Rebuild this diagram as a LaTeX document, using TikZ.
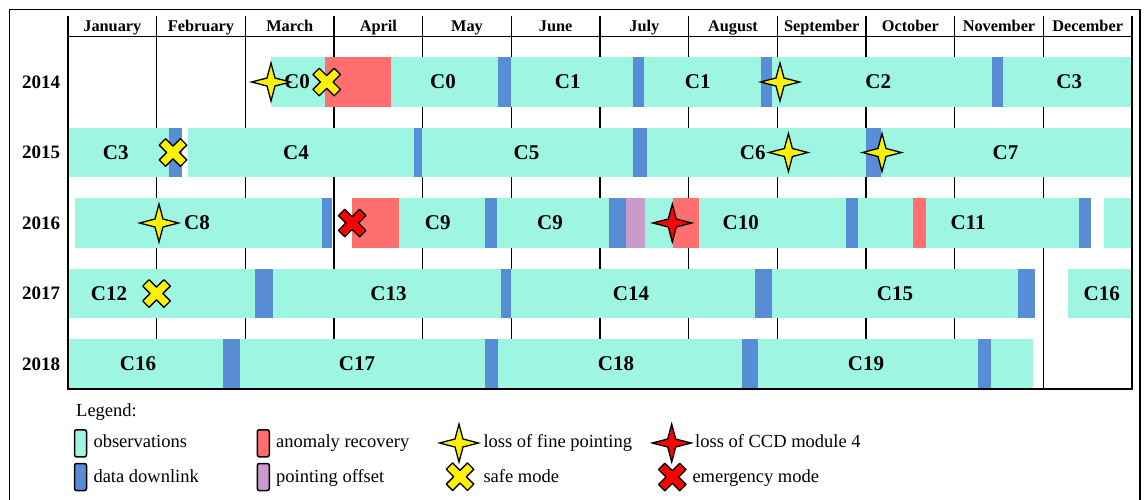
\documentclass[tikz,border=0pt]{standalone}
\usepackage{fontspec}
\newfontfamily\tnr{Liberation Serif}
\definecolor{obsc}{RGB}{158,245,226}
\definecolor{dlc}{RGB}{88,141,214}
\definecolor{anc}{RGB}{255,111,111}
\definecolor{poc}{RGB}{200,155,203}
\begin{document}
\begin{tikzpicture}[x=1pt,y=-1pt,
  seglabel/.style={font=\tnr\fontsize{21}{21}\selectfont\bfseries, inner sep=0pt},
  yearlabel/.style={font=\tnr\fontsize{19}{19}\selectfont\bfseries, inner sep=0pt},
  monthlabel/.style={font=\tnr\fontsize{16.3}{16.3}\selectfont\bfseries, inner sep=0pt, anchor=base},
  legtext/.style={font=\tnr\fontsize{18.5}{18.5}\selectfont, inner sep=0pt, anchor=base west},
  swatch/.style={draw=black, line width=1.5pt, rounded corners=2pt, minimum width=12pt, minimum height=27pt, inner sep=0pt},
  gridline/.style={line width=1.5pt},
  frameline/.style={line width=2pt},
  fourstar/.pic={\path[pic actions] (19.5,0) -- (4,4) -- (0,19) -- (-4,4) -- (-19.5,0) -- (-4,-4) -- (0,-19) -- (4,-4) -- cycle;},
  crossmark/.pic={\path[pic actions,rotate=45] (-4.5,-15) -- (4.5,-15) -- (4.5,-4.5) -- (15,-4.5) -- (15,4.5) -- (4.5,4.5) -- (4.5,15) -- (-4.5,15) -- (-4.5,4.5) -- (-15,4.5) -- (-15,-4.5) -- (-4.5,-4.5) -- cycle;},
  ystar/.style={fill=yellow, draw=black, line width=1.3pt},
  rstar/.style={fill=red, draw=black, line width=1.3pt},
  ycross/.style={fill=yellow, draw=black, line width=1.3pt, line join=round},
  rcross/.style={fill=red, draw=black, line width=1.3pt, line join=round},
]
\useasboundingbox (0,0) rectangle (1147,499);
% outer frame
\draw[line width=1.5pt] (9.5,9.5) rectangle (1140,503);
% interior month lines (behind bars)
\foreach \i in {1,...,11} \draw[gridline] ({68+88.667*\i},15.7) -- ({68+88.667*\i},388.5);
% month labels
\foreach \m [count=\i] in {January,February,March,April,May,June,July,August,September,October,November,December}
  \node[monthlabel] (m\i) at ({68+88.667*(\i-0.5)},31) {\m};
% row 2014
\foreach \s/\e/\c in {271/325/obsc,325/391/anc,391/498.3/obsc,498.3/510.7/dlc,510.7/633.3/obsc,633.3/644/dlc,644/761/obsc,761/771.7/dlc,771.7/991.7/obsc,991.7/1003.3/dlc,1003.3/1132/obsc}
  \fill[\c] (\s,57.3) rectangle (\e,106.7);
% row 2015
\foreach \s/\e/\c in {68/169.4/obsc,169.4/182/dlc,187.6/414.4/obsc,414.4/422/dlc,422/633.4/obsc,633.4/646.5/dlc,646.5/866.3/obsc,866.3/880.9/dlc,880.9/1132/obsc}
  \fill[\c] (\s,127.8) rectangle (\e,177.2);
% row 2016
\foreach \s/\e/\c in {75.1/322.2/obsc,322.2/331.9/dlc,351.8/398.8/anc,398.8/484.6/obsc,484.6/496.9/dlc,496.9/608.7/obsc,608.7/625.9/dlc,625.9/645.4/poc,645.4/673/obsc,673/698.9/anc,698.9/846/obsc,846/858/dlc,858/913/obsc,913/925.8/anc,925.8/1078.5/obsc,1078.5/1090.5/dlc,1104/1132/obsc}
  \fill[\c] (\s,198.3) rectangle (\e,247.7);
% row 2017
\foreach \s/\e/\c in {68/255.3/obsc,255.3/272.7/dlc,272.7/500.6/obsc,500.6/511/dlc,511/755/obsc,755/771.5/dlc,771.5/1017.9/obsc,1017.9/1034.7/dlc,1068.4/1132/obsc}
  \fill[\c] (\s,268.8) rectangle (\e,318.2);
% row 2018
\foreach \s/\e/\c in {68/222.7/obsc,222.7/240/dlc,240/485/obsc,485/497.6/dlc,497.6/742/obsc,742/758.4/dlc,758.4/978.2/obsc,978.2/991/dlc,991/1032.5/obsc}
  \fill[\c] (\s,339.3) rectangle (\e,388.7);
% outer grid lines
\draw[gridline] (68,36.7) -- (1132,36.7);
\draw[frameline] (68,15.7) -- (68,388.5) -- (1132,388.5) -- (1132,15.7);
% year labels
\node[yearlabel] (y2014) at (41,82) {2014};
\node[yearlabel] (y2015) at (41,152.5) {2015};
\node[yearlabel] (y2016) at (41,223) {2016};
\node[yearlabel] (y2017) at (41,293.5) {2017};
\node[yearlabel] (y2018) at (41,364) {2018};
% campaign labels
\node[seglabel] (c0a) at (297,82) {C0};
\node[seglabel] (c0b) at (443,82) {C0};
\node[seglabel] (c1a) at (567.7,82) {C1};
\node[seglabel] (c1b) at (697.7,82) {C1};
\node[seglabel] (c2) at (878.3,82) {C2};
\node[seglabel] (c3a) at (1069.3,82) {C3};
\node[seglabel] (c3b) at (115.8,152.5) {C3};
\node[seglabel] (c4) at (296,152.5) {C4};
\node[seglabel] (c5) at (526.5,152.5) {C5};
\node[seglabel] (c6) at (752.8,152.5) {C6};
\node[seglabel] (c7) at (1005.5,152.5) {C7};
\node[seglabel] (c8) at (197,223) {C8};
\node[seglabel] (c9a) at (437.7,223) {C9};
\node[seglabel] (c9b) at (550,223) {C9};
\node[seglabel] (c10) at (740.8,223) {C10};
\node[seglabel] (c11) at (968,223) {C11};
\node[seglabel] (c12) at (109,293.5) {C12};
\node[seglabel] (c13) at (388.5,293.5) {C13};
\node[seglabel] (c14) at (631,293.5) {C14};
\node[seglabel] (c15) at (895,293.5) {C15};
\node[seglabel] (c16a) at (1101.7,293.5) {C16};
\node[seglabel] (c16b) at (138,364) {C16};
\node[seglabel] (c17) at (357,364) {C17};
\node[seglabel] (c18) at (616,364) {C18};
\node[seglabel] (c19) at (866,364) {C19};
% events
\pic[ystar] (ev1) at (271,82) {fourstar};
\pic[ycross] (ev2) at (326.7,82) {crossmark};
\pic[ystar] (ev3) at (780,82) {fourstar};
\pic[ycross] (ev4) at (173,152.5) {crossmark};
\pic[ystar] (ev5) at (788.4,152.5) {fourstar};
\pic[ystar] (ev6) at (882,152.5) {fourstar};
\pic[ystar] (ev7) at (159,223) {fourstar};
\pic[rcross] (ev8) at (352.2,223) {crossmark};
\pic[rstar] (ev9) at (672.3,223) {fourstar};
\pic[ycross] (ev10) at (156.5,293.5) {crossmark};
% legend
\node[legtext] (legend) at (76,416.5) {Legend:};
\node[swatch, fill=obsc] (sw1) at (80.5,443.3) {};
\node[legtext] (lt1) at (93.3,447.5) {observations};
\node[swatch, fill=dlc] (sw2) at (80.5,477) {};
\node[legtext] (lt2) at (93.3,482) {data downlink};
\node[swatch, fill=anc] (sw3) at (263.3,443.3) {};
\node[legtext] (lt3) at (276,447.5) {anomaly recovery};
\node[swatch, fill=poc] (sw4) at (263.3,477) {};
\node[legtext] (lt4) at (276,482) {pointing offset};
\pic[ystar] (ls1) at (459,443) {fourstar};
\node[legtext] (lt5) at (483.3,447.5) {loss of fine pointing};
\pic[ycross] (ls2) at (460,476.7) {crossmark};
\node[legtext] (lt6) at (483.3,482) {safe mode};
\pic[rstar] (ls3) at (671.7,443) {fourstar};
\node[legtext] (lt7) at (695,447.5) {loss of CCD module 4};
\pic[rcross] (ls4) at (672.3,477) {crossmark};
\node[legtext] (lt8) at (692.3,482) {emergency mode};
\end{tikzpicture}
\end{document}
